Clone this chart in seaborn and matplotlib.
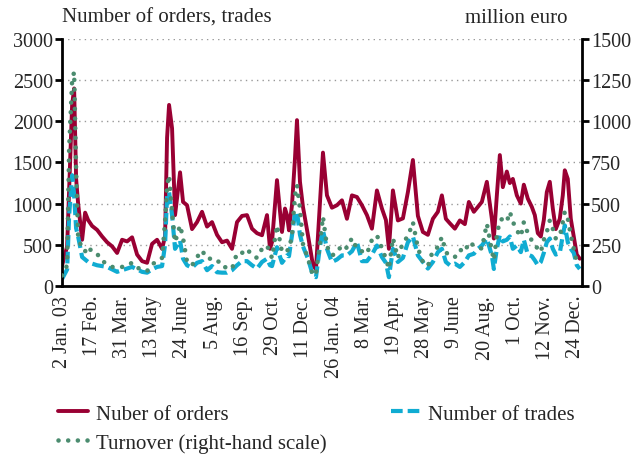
import numpy as np
import pandas as pd
import matplotlib
matplotlib.use("Agg")
import matplotlib.pyplot as plt
import seaborn as sns

# trading-day index since 2 Jan 2003 and the three series
days = [0, 5, 7, 10, 12, 14, 16, 20, 23, 26, 30, 35, 40, 45, 50, 55, 60, 65, 70, 75,
        80, 85, 90, 95, 100, 103, 105, 107, 110, 113, 118, 121, 125, 130, 135, 140, 145, 150, 155, 160,
        165, 170, 175, 180, 185, 190, 195, 200, 205, 208, 210, 215, 220, 223, 225, 227, 230, 233, 235, 238,
        241, 246, 251, 254, 258, 261, 265, 270, 275, 280, 285, 290, 295, 300, 305, 310, 315, 320, 324, 327,
        331, 336, 341, 346, 351, 356, 361, 366, 371, 376, 380, 384, 388, 393, 398, 403, 407, 412, 416, 420,
        425, 430, 432, 435, 438, 441, 445, 448, 451, 455, 459, 462, 466, 470, 473, 476, 479, 482, 485, 488,
        491, 494, 498, 501, 503, 506, 509, 512, 515, 518]

orders = [250, 480, 1180, 2200, 2400, 1300, 1000, 560, 890, 800, 728, 680, 600, 530, 480, 400, 560, 540, 590, 380,
          300, 280, 510, 560, 450, 600, 1800, 2200, 1915, 860, 1380, 1020, 980, 690, 775, 900, 720, 775, 620, 530,
          550, 450, 775, 850, 860, 695, 640, 615, 860, 450, 530, 1285, 655, 940, 860, 675, 980, 1550, 2015, 1265,
          960, 615, 250, 200, 1000, 1620, 1100, 950, 980, 1040, 815, 1100, 1080, 980, 860, 695, 1160, 940, 800, 450,
          1160, 795, 820, 1140, 1530, 850, 655, 620, 815, 900, 1100, 815, 760, 695, 795, 750, 1020, 900, 960, 1020,
          1265, 815, 575, 1100, 1590, 1200, 1390, 1250, 1300, 1100, 1000, 1230, 1060, 960, 860, 640, 600, 800, 1140, 1265,
          940, 690, 815, 1100, 1405, 1300, 815, 600, 380, 330]

trades = [85, 200, 860, 1345, 1100, 700, 600, 350, 320, 290, 270, 250, 240, 230, 200, 170, 190, 210, 230, 200,
          170, 160, 200, 230, 240, 500, 1100, 1140, 860, 450, 550, 330, 250, 220, 280, 300, 190, 240, 165, 160,
          160, 190, 250, 300, 300, 250, 210, 290, 330, 250, 240, 470, 280, 330, 370, 360, 615, 880, 900, 620,
          480, 330, 125, 105, 480, 675, 450, 290, 320, 370, 370, 420, 530, 300, 300, 380, 490, 350, 280, 105,
          450, 290, 340, 530, 600, 370, 290, 210, 290, 410, 450, 290, 250, 270, 230, 290, 370, 390, 450, 490,
          575, 370, 205, 450, 615, 540, 560, 600, 450, 490, 410, 560, 380, 360, 310, 250, 290, 400, 530, 575,
          450, 380, 400, 615, 735, 530, 450, 400, 250, 205]

# million euro, right-hand scale
turnover = [63, 125, 835, 1250, 1300, 700, 300, 220, 210, 240, 205, 195, 150, 135, 115, 112, 115, 125, 140, 110,
            100, 90, 130, 150, 170, 390, 610, 672, 450, 265, 368, 290, 145, 125, 175, 215, 165, 165, 160, 115,
            112, 103, 200, 200, 225, 185, 170, 225, 245, 200, 170, 368, 205, 205, 215, 220, 307, 550, 612, 470,
            255, 165, 63, 73, 260, 420, 240, 185, 200, 250, 230, 290, 225, 210, 195, 280, 307, 230, 165, 103,
            290, 170, 265, 300, 387, 230, 145, 120, 215, 235, 297, 205, 180, 175, 220, 205, 265, 245, 240, 225,
            378, 215, 155, 307, 398, 408, 390, 450, 390, 337, 300, 387, 320, 275, 250, 225, 205, 280, 327, 398,
            347, 287, 300, 387, 450, 408, 307, 225, 145, 125]

tick_labels = ["2 Jan. 03", "17 Feb.", "31 Mar.", "13 May", "24 June", "5 Aug.", "16 Sep.", "29 Oct.",
               "11 Dec.", "26 Jan. 04", "8 Mar.", "19 Apr.", "28 May", "9 June", "20 Aug.", "1 Oct.",
               "12 Nov.", "24 Dec."]

df = pd.DataFrame({"day": days, "orders": orders, "trades": trades, "turnover": turnover})

RED = "#990033"
CYAN = "#10acd2"
GREEN = "#4b8c6f"

sns.set_style("white")
plt.rcParams["font.family"] = ["Liberation Serif", "DejaVu Serif"]
plt.rcParams["font.size"] = 15

fig = plt.figure(figsize=(6.31, 4.56), dpi=100)
ax = fig.add_axes([0.098, 0.371, 0.824, 0.541])
ax2 = ax.twinx()

sns.lineplot(data=df, x="day", y="orders", ax=ax, color=RED, linewidth=2.8, label="Nuber of orders")
sns.lineplot(data=df, x="day", y="trades", ax=ax, color=CYAN, linewidth=3.0,
             linestyle=(0, (2.8, 1.2)), label="Number of trades")
sns.lineplot(data=df, x="day", y="turnover", ax=ax2, color=GREEN, linewidth=3.3,
             linestyle=(0, (0.01, 2.1)), dash_capstyle="round", label="Turnover (right-hand scale)")

ax.set_xlim(-0.3, 520)
ax.set_ylim(0, 3000)
ax2.set_ylim(0, 1500)
ax.set_yticks(np.arange(0, 3001, 500))
ax2.set_yticks(np.arange(0, 1501, 250))
ax.set_xticks(np.linspace(0, 514, len(tick_labels)))
ax.set_xticklabels(tick_labels, rotation=90)
ax.set_xlabel("")
ax.set_ylabel("")
ax2.set_ylabel("")

ax.yaxis.grid(True, linestyle=(0, (1, 3)), color="#999999", linewidth=1.0)
ax.set_axisbelow(True)

for a in (ax, ax2):
    a.spines["top"].set_visible(False)
    for s in ("left", "right", "bottom"):
        a.spines[s].set_linewidth(2.0)
        a.spines[s].set_color("black")
    a.tick_params(length=5, width=2, color="black", labelsize=14.5, pad=1.5)
ax.spines["right"].set_visible(False)
ax2.spines["left"].set_visible(False)
ax2.spines["bottom"].set_visible(False)

ax.get_legend().remove()
ax2.get_legend().remove()

fig.text(0.098, 0.96, "Number of orders, trades", ha="left", va="center", fontsize=15)
fig.text(0.900, 0.96, "million euro", ha="right", va="center", fontsize=15)

h1, l1 = ax.get_legend_handles_labels()
h2, l2 = ax2.get_legend_handles_labels()
fig.legend([h1[0], h2[0], h1[1]], [l1[0], l2[0], l1[1]], loc="upper left",
           bbox_to_anchor=(0.092, 0.112), ncol=2, frameon=False, fontsize=15,
           handlelength=1.45, handletextpad=0.35, columnspacing=3.1,
           labelspacing=0.45, borderpad=0, borderaxespad=0)

fig.savefig("out.png", dpi=100)
